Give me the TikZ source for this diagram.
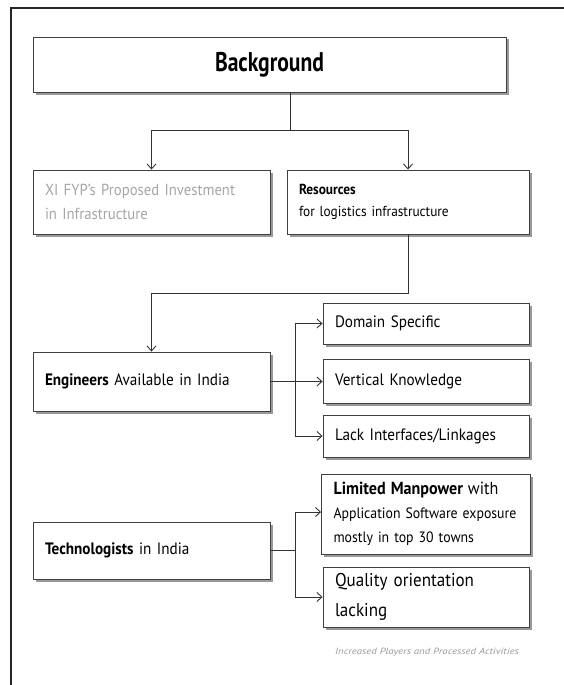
\documentclass[tikz,border=0pt]{standalone}
\usepackage{fontspec}
\setmainfont{PT Sans}[FakeStretch=0.92]
\newfontfamily\headfont{PT Sans}[FakeStretch=0.8]
\newfontfamily\notefont{PT Sans}[FakeStretch=1.2]
\usetikzlibrary{arrows.meta,shadows}
\begin{document}
\begin{tikzpicture}[x=1pt,y=-1pt,
  box/.style={draw=black!75, line width=0.9pt, fill=white, inner sep=0pt,
    drop shadow={shadow xshift=2.5pt, shadow yshift=-2.5pt, fill=black!40, opacity=1}},
  leftbox/.style={box, align=left, inner xsep=12pt},
  link/.style={draw=black!80, line width=0.9pt},
  arr/.style={link, -{Straight Barb[length=5pt,width=9pt]}},
  txt/.style={font=\fontsize{16.5}{24}\selectfont}
]
\useasboundingbox (0,0) rectangle (564,685);
% frame edges
\draw[line width=2pt, black!85] (11,685) -- (11,8) -- (564,8);

% top box
\node[box, minimum width=473pt, minimum height=55pt,
  font=\headfont\bfseries\fontsize{27}{30}\selectfont] (bg) at (269.5,64.5) {Background};

% second row
\node[leftbox, text width=213pt, minimum height=64pt, text=black!35,
  font=\fontsize{16}{24}\selectfont] (fyp) at (151.5,202)
  {XI FYP's Proposed Investment\\in Infrastructure};
\node[leftbox, text width=218pt, minimum height=64pt,
  font=\fontsize{14.5}{22}\selectfont] (res) at (408,202)
  {\textbf{Resources}\\for logistics infrastructure};

% engineers and their gaps
\node[leftbox, txt, text width=213pt, minimum height=59pt] (eng) at (151.5,381.5)
  {\textbf{Engineers} Available in India};
\node[leftbox, txt, text width=182pt, minimum height=41pt] (dom) at (426,323.5)
  {Domain Specific};
\node[leftbox, txt, text width=182pt, minimum height=44pt] (vert) at (426,381)
  {Vertical Knowledge};
\node[leftbox, txt, text width=182pt, minimum height=42pt] (lack) at (426,436)
  {Lack Interfaces/Linkages};

% technologists and their gaps
\node[leftbox, txt, text width=213pt, minimum height=57pt] (tech) at (151.5,550.5)
  {\textbf{Technologists} in India};
\node[leftbox, text width=185pt, minimum height=80pt,
  font=\fontsize{15}{24}\selectfont] (lim) at (426,514)
  {{\fontsize{17.5}{24}\selectfont\textbf{Limited Manpower} with}\\
   \mbox{Application Software exposure}\\
   mostly in top 30 towns};
\node[leftbox, text width=182pt, minimum height=60pt,
  font=\fontsize{18.5}{30}\selectfont] (qual) at (426,597)
  {Quality orientation\\lacking};

\node[text=black!40, font=\notefont\itshape\fontsize{9}{10}\selectfont] (note) at (427,652)
  {Increased Players and Processed Activities};

% connectors
\coordinate (j1) at (290,130);
\draw[link] (bg.south -| j1) -- (j1);
\draw[arr] (j1) -| (fyp.north);
\draw[arr] (j1) -| (res.north);
\draw[arr] (res.south) -- ++(0,59) -| (eng.north);

\coordinate (b1) at (295,381.5);
\draw[link] (eng.east) -- (b1);
\draw[arr] (b1) |- (dom.west);
\draw[arr] (b1) -- (vert.west |- b1);
\draw[arr] (b1) |- (lack.west);

\coordinate (b2) at (295,550.5);
\draw[link] (tech.east) -- (b2);
\draw[arr] (b2) |- (lim.west |- 0,512);
\draw[arr] (b2) |- (qual.west);
\end{tikzpicture}
\end{document}
